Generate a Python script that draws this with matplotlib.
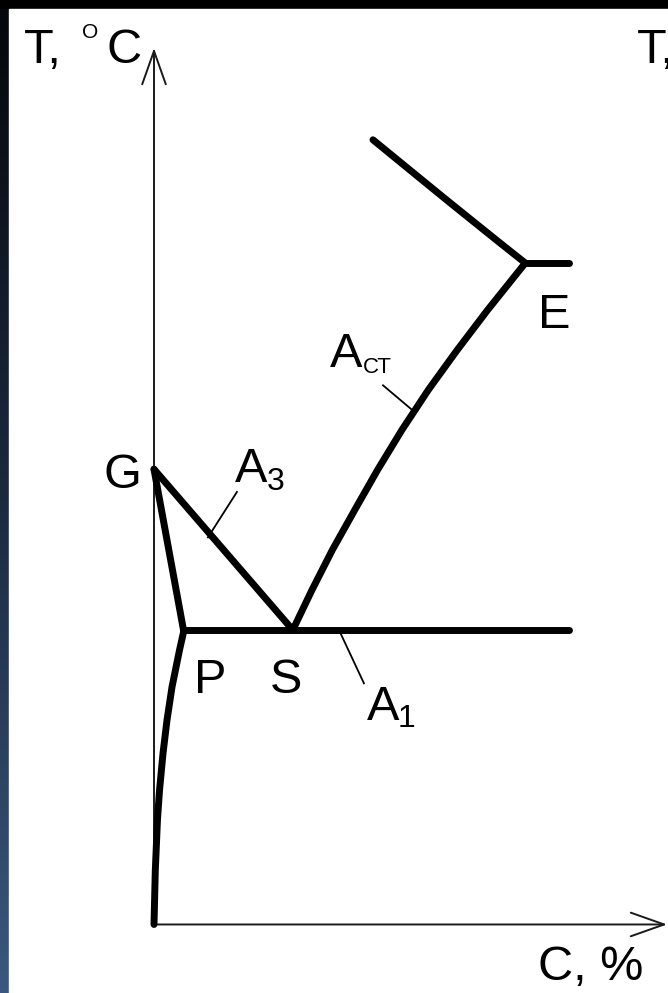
import numpy as np
import matplotlib
matplotlib.use('Agg')
import matplotlib.pyplot as plt

# --- данные диаграммы (C, % ; T, °C) ---
T0 = 390                     # начало оси температур
gp_c = [0.0, 0.17];   gp_t = [911, 727]          # G-P
gs_c = [0.0, 0.80];   gs_t = [911, 727]          # G-S (A3)
pq_c = [0.173, 0.147, 0.104, 0.075, 0.052, 0.032, 0.020, 0.0075, 0.0]   # P-Q
pq_t = [727, 704, 662, 624, 586, 544, 510, 452, 390]
psk_c = [0.17, 2.39]; psk_t = [727, 727]         # P-S-K (A1)
se_c = [0.80, 0.911, 1.029, 1.156, 1.288, 1.429, 1.582, 1.746, 1.922, 2.14]   # S-E (Acт)
se_t = [727, 773, 819, 864, 910, 956, 1002, 1047, 1093, 1147]
ec_c = [1.262, 1.533, 1.706, 1.994, 2.14]        # ликвидус
ec_t = [1288, 1244, 1216, 1170, 1147]
ef_c = [2.14, 2.39];  ef_t = [1147, 1147]

# выноски: (C, T) начало -> конец
lead_a3 = ([0.478, 0.311], [885, 833])
lead_a1 = ([1.078, 1.210], [722, 666])
lead_act = ([1.320, 1.487], [1007, 979])

# --- рисунок ---
W, H = 668, 993
fig = plt.figure(figsize=(W / 100, H / 100), dpi=100, facecolor='black')
ax = fig.add_axes([0, 0, 1, 1])
ax.set_axis_off()
# масштаб: 173.5 px на 1 %, 0.8738 px на 1 °C, начало координат в (154, 925) px
sx, sy = 173.5, 0.8738
ax.set_xlim(-154 / sx, (W - 154) / sx)
ax.set_ylim(727 - (H - 630) / sy, 727 + 630 / sy)

# фон: чёрная рамка, синяя полоса слева, белое поле
ax.add_patch(plt.Rectangle((0, 0), 1, 1, transform=ax.transAxes, color='black', zorder=0))
grad = np.linspace(0, 1, 256).reshape(-1, 1)
ax.imshow(grad, cmap=matplotlib.colors.LinearSegmentedColormap.from_list(
    'bg', ['#3a587e', '#1c2a40', '#05080c']), aspect='auto', origin='lower',
    extent=(0, 9 / W, 0, 1 - 9 / H), transform=ax.transAxes, zorder=0.5)
ax.add_patch(plt.Rectangle((9 / W, 0), 1, 1 - 9 / H, transform=ax.transAxes,
                           color='white', zorder=1))

# оси со стрелками
arrow = dict(arrowstyle='->,head_length=24,head_width=8.5', mutation_scale=1,
             lw=1.4, color='#1a1a1a', shrinkA=0, shrinkB=0)
ax.annotate('', xy=(0, 1393), xytext=(0, T0), arrowprops=arrow, zorder=2)
ax.annotate('', xy=(2.957, T0), xytext=(0, T0), arrowprops=arrow, zorder=2)

# линии диаграммы
kw = dict(color='black', lw=5, solid_capstyle='round', solid_joinstyle='round', zorder=3)
for c, t in [(gp_c, gp_t), (gs_c, gs_t), (pq_c, pq_t), (psk_c, psk_t),
             (se_c, se_t), (ec_c, ec_t), (ef_c, ef_t)]:
    ax.plot(c, t, **kw)

for c, t in [lead_a3, lead_a1, lead_act]:
    ax.plot(c, t, color='black', lw=1.3, zorder=3)

# подписи
fnt = dict(family=['Liberation Sans', 'DejaVu Sans'], color='black', zorder=4,
           ha='left', va='baseline')
ax.text(-0.750, 1376, 'T,', fontsize=35, **fnt)
ax.text(-0.415, 1404, 'O', fontsize=15, **fnt)
ax.text(-0.275, 1376, 'C', fontsize=35, **fnt)
ax.text(2.782, 1376, 'T,', fontsize=35, **fnt)   # обрезано краем, как в оригинале
ax.text(2.215, 327, 'C, %', fontsize=35, **fnt)

ax.text(-0.292, 889, 'G', fontsize=35, **fnt)
ax.text(0.232, 655, 'P', fontsize=35, **fnt)
ax.text(0.668, 655, 'S', fontsize=35, **fnt)
ax.text(2.213, 1073, 'E', fontsize=35, **fnt)

ax.text(0.467, 896, 'A', fontsize=35, **fnt)
ax.text(0.651, 887, '3', fontsize=23, **fnt)
ax.text(1.228, 624, 'A', fontsize=35, **fnt)
ax.text(1.405, 616, '1', fontsize=23, **fnt)
ax.text(1.014, 1028, 'A', fontsize=35, **fnt)
ax.text(1.205, 1021, 'СТ', fontsize=16, **fnt)

fig.savefig('out.png', dpi=100, facecolor=fig.get_facecolor())
